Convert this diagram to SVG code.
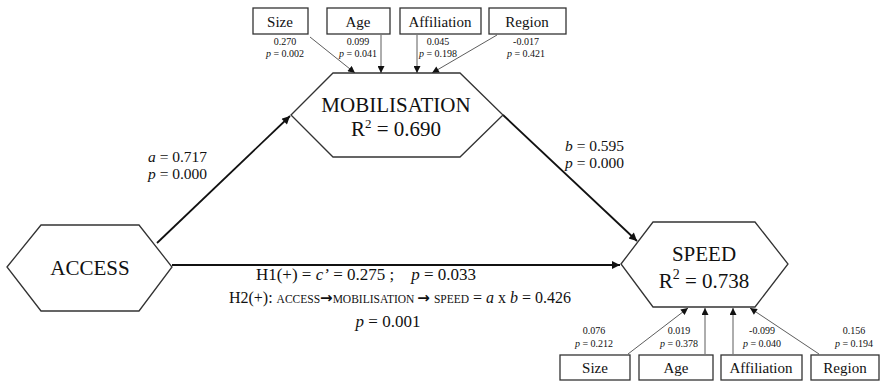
<svg xmlns="http://www.w3.org/2000/svg" width="888" height="383" viewBox="0 0 888 383">
<style>
text{font-family:"Liberation Serif","Times New Roman",serif;fill:#111}
.hex{fill:#fff;stroke:#333;stroke-width:1.3}
.box{fill:#fff;stroke:#333;stroke-width:1.3}
.big{font-size:21px;text-anchor:middle}
.lbl{font-size:15px;text-anchor:middle}
.num{font-size:10px;text-anchor:middle}
.eq{font-size:15.5px}
.sc{font-size:11.5px}
.arr{font-family:"DejaVu Sans",sans-serif;font-weight:bold;font-size:15px}
.main{stroke:#111;stroke-width:1.8;fill:none;marker-end:url(#ah)}
.ctl{stroke:#333;stroke-width:0.8;fill:none;marker-end:url(#as)}
</style>
<defs>
<marker id="ah" viewBox="0 0 10 10" refX="10" refY="5" markerWidth="10" markerHeight="8" orient="auto" markerUnits="userSpaceOnUse"><path d="M0,0 L10,5 L0,10 z" fill="#111"/></marker>
<marker id="as" viewBox="0 0 10 10" refX="10" refY="5" markerWidth="8" markerHeight="7" orient="auto" markerUnits="userSpaceOnUse"><path d="M0,0 L10,5 L0,10 z" fill="#111"/></marker>
</defs>
<rect width="888" height="383" fill="#fff"/>
<g id="connectors">
<path class="main" d="M157,243 L290,116"/>
<path class="main" d="M503,115 L637,241"/>
<path class="main" d="M172,265 L620,265"/>
<path class="ctl" d="M310,37 L355,73"/>
<path class="ctl" d="M381,35 L381,73"/>
<path class="ctl" d="M417,35 L417,73"/>
<path class="ctl" d="M497,35 L432,73"/>
<path class="ctl" d="M628,354 L688,308"/>
<path class="ctl" d="M705,354 L705,308"/>
<path class="ctl" d="M733,354 L733,308"/>
<path class="ctl" d="M819,354 L750,308"/>
</g>
<g id="access">
<polygon class="hex" points="7,267 41,225 139,225 172,267 139,311 41,311"/>
<text class="big" x="90" y="275" font-size="20">ACCESS</text>
</g>
<g id="mobilisation">
<polygon class="hex" points="291,115 333,73 460,73 503,115 460,157 333,157"/>
<text class="big" x="396" y="112">MOBILISATION</text>
<text class="big" x="396" y="136">R<tspan font-size="13" dy="-8">2</tspan><tspan dy="8"> = 0.690</tspan></text>
</g>
<g id="speed">
<polygon class="hex" points="621,264 653,222 755,222 788,264 755,307 653,307"/>
<text class="big" x="704" y="261">SPEED</text>
<text class="big" x="704" y="288" font-size="23">R<tspan font-size="14" dy="-9">2</tspan><tspan dy="9"> = 0.738</tspan></text>
</g>
<g id="top-size">
<rect class="box" x="253" y="8" width="55" height="26"/>
<text class="lbl" x="280" y="27">Size</text>
<text class="num" x="285" y="45">0.270</text>
<text class="num" x="285" y="57"><tspan font-style="italic">p</tspan> = 0.002</text>
</g>
<g id="top-age">
<rect class="box" x="327" y="8" width="63" height="26"/>
<text class="lbl" x="358" y="27">Age</text>
<text class="num" x="358" y="45">0.099</text>
<text class="num" x="358" y="57"><tspan font-style="italic">p</tspan> = 0.041</text>
</g>
<g id="top-affiliation">
<rect class="box" x="400" y="8" width="81" height="26"/>
<text class="lbl" x="440" y="27">Affiliation</text>
<text class="num" x="438" y="45">0.045</text>
<text class="num" x="438" y="57"><tspan font-style="italic">p</tspan> = 0.198</text>
</g>
<g id="top-region">
<rect class="box" x="489" y="8" width="77" height="26"/>
<text class="lbl" x="527" y="27">Region</text>
<text class="num" x="526" y="45">-0.017</text>
<text class="num" x="526" y="57"><tspan font-style="italic">p</tspan> = 0.421</text>
</g>
<g id="bot-size">
<rect class="box" x="560" y="355" width="70" height="25"/>
<text class="lbl" x="595" y="373">Size</text>
<text class="num" x="594" y="334">0.076</text>
<text class="num" x="594" y="347"><tspan font-style="italic">p</tspan> = 0.212</text>
</g>
<g id="bot-age">
<rect class="box" x="639" y="355" width="74" height="25"/>
<text class="lbl" x="676" y="373">Age</text>
<text class="num" x="679" y="334">0.019</text>
<text class="num" x="679" y="347"><tspan font-style="italic">p</tspan> = 0.378</text>
</g>
<g id="bot-affiliation">
<rect class="box" x="721" y="355" width="81" height="25"/>
<text class="lbl" x="761" y="373">Affiliation</text>
<text class="num" x="762" y="334">-0.099</text>
<text class="num" x="762" y="347"><tspan font-style="italic">p</tspan> = 0.040</text>
</g>
<g id="bot-region">
<rect class="box" x="811" y="355" width="68" height="25"/>
<text class="lbl" x="845" y="373">Region</text>
<text class="num" x="854" y="334">0.156</text>
<text class="num" x="854" y="347"><tspan font-style="italic">p</tspan> = 0.194</text>
</g>
<g id="labels">
<text class="eq" x="148" y="162"><tspan font-style="italic">a</tspan> = 0.717</text>
<text class="eq" x="148" y="179"><tspan font-style="italic">p</tspan> = 0.000</text>
<text class="eq" x="565" y="151"><tspan font-style="italic">b</tspan> = 0.595</text>
<text class="eq" x="565" y="168"><tspan font-style="italic">p</tspan> = 0.000</text>
<text x="366" y="280" font-size="17" text-anchor="middle" xml:space="preserve">H1(+) = <tspan font-style="italic">c’</tspan> = 0.275 ;    <tspan font-style="italic">p</tspan> = 0.033</text>
<text x="400" y="303" font-size="16" text-anchor="middle">H2(+): <tspan class="sc">ACCESS</tspan><tspan class="arr">→</tspan><tspan class="sc">MOBILISATION </tspan><tspan class="arr">→</tspan> <tspan class="sc">SPEED</tspan> = <tspan font-style="italic">a</tspan> x <tspan font-style="italic">b</tspan> = 0.426</text>
<text x="388" y="327" font-size="17" text-anchor="middle"><tspan font-style="italic">p</tspan> = 0.001</text>
</g>
</svg>
